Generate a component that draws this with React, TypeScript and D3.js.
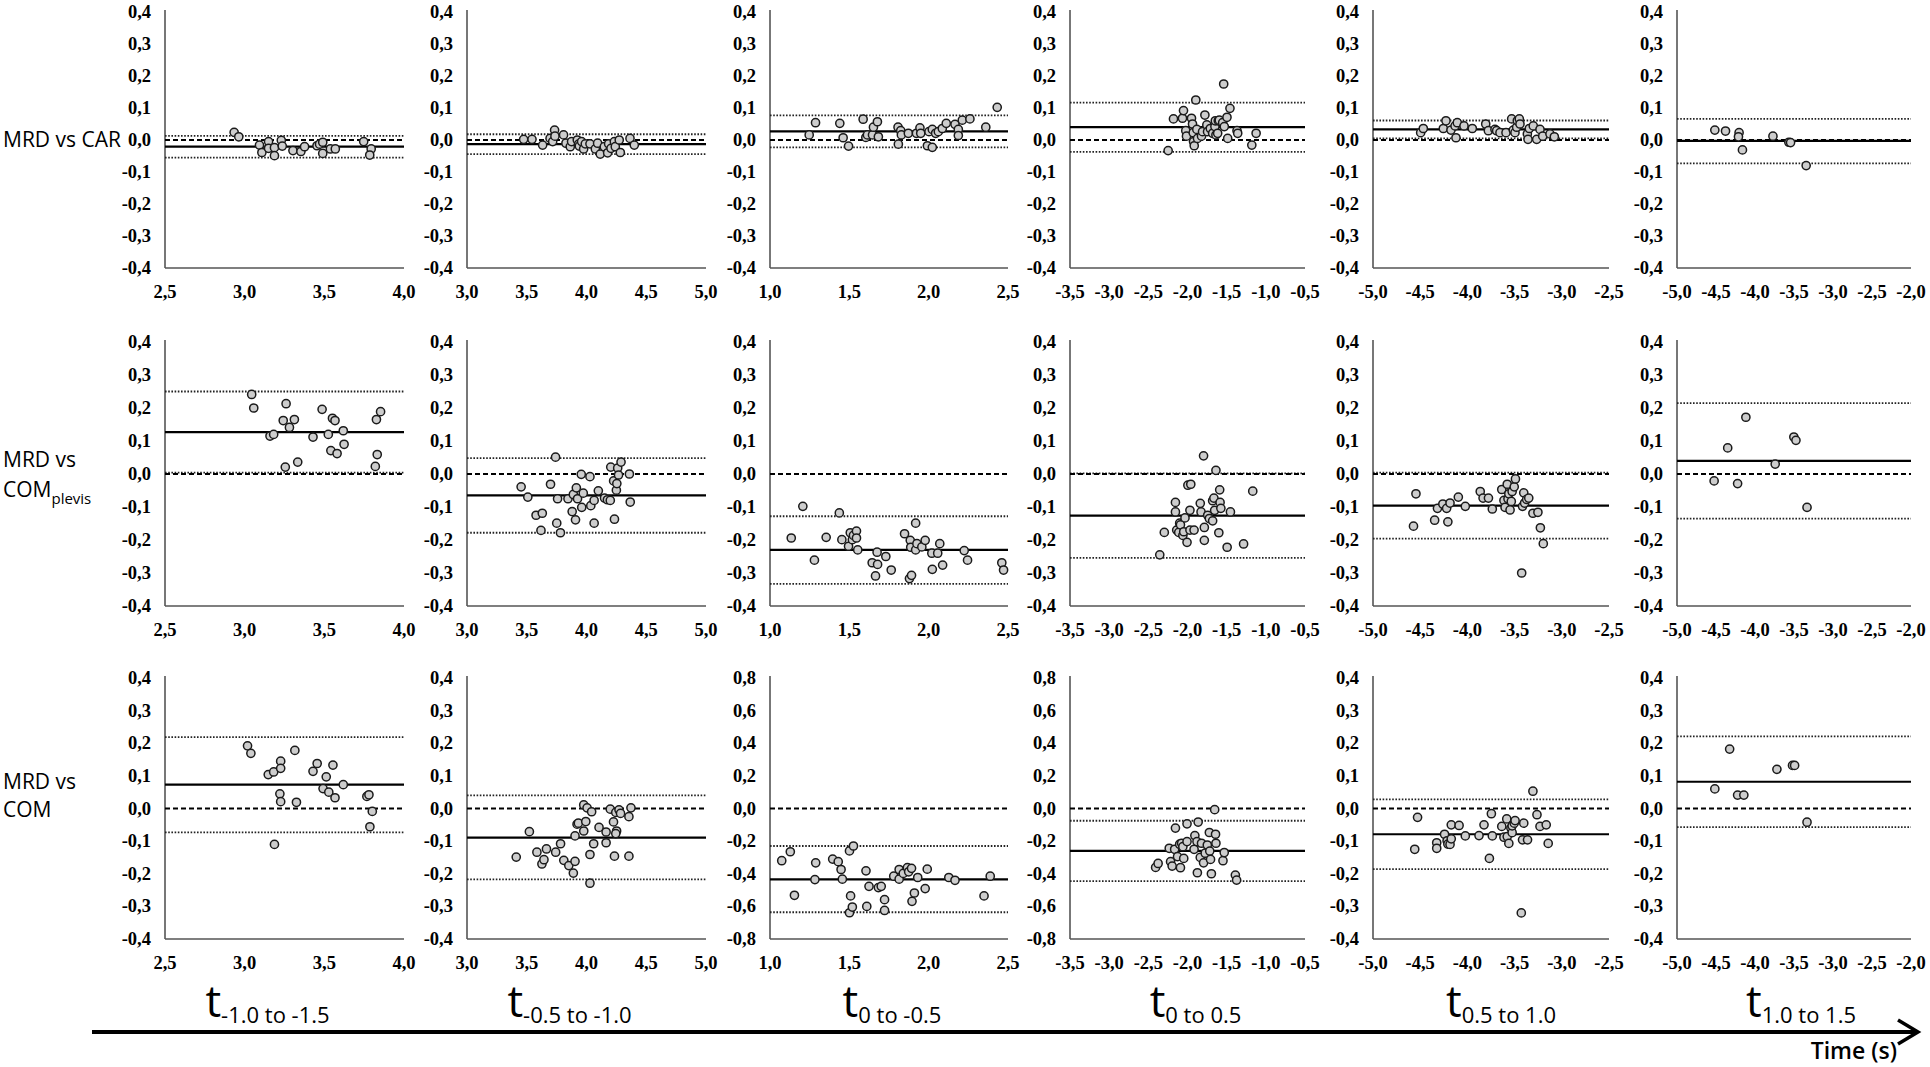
import React, { useEffect, useRef } from 'react';
import * as d3 from 'd3';

type Pt = [number, number];

// row / column labels
const rowLabels: string[][] = [['MRD vs CAR'], ['MRD vs', 'COM', 'plevis'], ['MRD vs', 'COM']];
const periodSubs = ['-1.0 to -1.5', '-0.5 to -1.0', '0 to -0.5', '0 to 0.5', '0.5 to 1.0', '1.0 to 1.5'];

// x range of each column (s)
const xDomains: [number, number][] = [
  [2.5, 4.0], [3.0, 5.0], [1.0, 2.5], [-3.5, -0.5], [-5.0, -2.5], [-5.0, -2.0]
];
// y range: wide range only for COM, columns 3 and 4
const yDomainNarrow: [number, number] = [-0.4, 0.4];
const yDomainWide: [number, number] = [-0.8, 0.8];

// bias and limits of agreement per row
const carMean = [-0.021, -0.013, 0.027, 0.040, 0.033, -0.003];
const carUpper = [0.013, 0.018, 0.077, 0.117, 0.061, 0.066];
const carLower = [-0.055, -0.044, -0.023, -0.037, 0.005, -0.073];
const pelvisMean = [0.127, -0.065, -0.230, -0.126, -0.096, 0.040];
const pelvisUpper = [0.250, 0.048, -0.128, 0.002, 0.004, 0.215];
const pelvisLower = [0.004, -0.178, -0.333, -0.254, -0.196, -0.135];
const comMean = [0.073, -0.089, -0.434, -0.260, -0.079, 0.082];
const comUpper = [0.219, 0.040, -0.230, -0.075, 0.028, 0.221];
const comLower = [-0.073, -0.217, -0.636, -0.445, -0.186, -0.057];

// MRD vs CAR
const car1: Pt[] = [[2.934, 0.024], [2.963, 0.010], [3.093, -0.016], [3.108, -0.039], [3.15, -0.005], [3.15, -0.026], [3.187, -0.024], [3.187, -0.049], [3.23, -0.001], [3.236, -0.019], [3.303, -0.033], [3.353, -0.036], [3.376, -0.021], [3.454, -0.018], [3.47, -0.013], [3.49, -0.007], [3.49, -0.042], [3.538, -0.028], [3.569, -0.028], [3.747, -0.005], [3.794, -0.028], [3.785, -0.047]];
const car2: Pt[] = [[3.474, 0.002], [3.544, 0.002], [3.633, -0.016], [3.695, 0.005], [3.717, -0.005], [3.733, 0.031], [3.736, 0.012], [3.808, 0.016], [3.828, -0.010], [3.864, -0.021], [3.875, -0.005], [3.923, 0.0], [3.934, -0.013], [3.94, -0.019], [3.959, -0.005], [3.976, -0.028], [3.99, -0.012], [4.029, -0.012], [4.074, -0.028], [4.093, -0.010], [4.115, -0.044], [4.149, -0.021], [4.177, -0.040], [4.185, -0.012], [4.205, -0.026], [4.233, -0.005], [4.241, -0.021], [4.274, 0.0], [4.283, -0.039], [4.364, 0.005], [4.4, -0.016]];
const car3: Pt[] = [[1.247, 0.016], [1.287, 0.054], [1.44, 0.052], [1.461, 0.007], [1.495, -0.019], [1.587, 0.065], [1.604, 0.008], [1.614, 0.016], [1.646, 0.016], [1.652, 0.040], [1.677, 0.057], [1.683, 0.010], [1.807, 0.040], [1.809, -0.013], [1.824, 0.029], [1.828, 0.016], [1.872, 0.021], [1.923, 0.021], [1.945, 0.038], [1.95, 0.021], [1.992, -0.018], [2.002, 0.026], [2.023, -0.023], [2.023, 0.033], [2.044, 0.021], [2.061, 0.026], [2.086, 0.036], [2.111, 0.052], [2.166, 0.049], [2.187, 0.033], [2.187, 0.014], [2.212, 0.062], [2.26, 0.066], [2.36, 0.040], [2.432, 0.102]];
const car4: Pt[] = [[-2.247, -0.033], [-2.179, 0.066], [-2.064, 0.068], [-2.051, 0.092], [-2.022, 0.029], [-2.013, 0.012], [-1.949, 0.068], [-1.936, 0.05], [-1.927, 0.023], [-1.923, -0.005], [-1.914, -0.018], [-1.894, 0.125], [-1.881, 0.033], [-1.872, 0.005], [-1.821, 0.012], [-1.808, 0.026], [-1.778, 0.078], [-1.753, 0.047], [-1.744, 0.026], [-1.709, 0.036], [-1.679, 0.021], [-1.65, 0.042], [-1.645, 0.060], [-1.637, 0.016], [-1.615, 0.021], [-1.607, 0.060], [-1.594, 0.062], [-1.551, 0.054], [-1.538, 0.175], [-1.53, 0.042], [-1.496, 0.071], [-1.487, 0.005], [-1.458, 0.099], [-1.368, 0.029], [-1.359, 0.021], [-1.179, -0.016], [-1.124, 0.021]];
const car5: Pt[] = [[-4.495, 0.023], [-4.467, 0.036], [-4.255, 0.036], [-4.227, 0.060], [-4.174, 0.031], [-4.131, 0.044], [-4.121, 0.007], [-4.107, 0.054], [-4.036, 0.044], [-3.948, 0.036], [-3.806, 0.05], [-3.778, 0.029], [-3.708, 0.033], [-3.69, 0.029], [-3.655, 0.023], [-3.591, 0.023], [-3.531, 0.066], [-3.514, 0.031], [-3.496, 0.023], [-3.478, 0.040], [-3.471, 0.060], [-3.45, 0.066], [-3.443, 0.05], [-3.365, 0.019], [-3.358, 0.002], [-3.344, 0.036], [-3.302, 0.044], [-3.266, 0.002], [-3.231, 0.033], [-3.202, 0.012], [-3.125, 0.019], [-3.079, 0.010]];
const car6: Pt[] = [[-4.515, 0.031], [-4.378, 0.028], [-4.204, 0.023], [-4.212, 0.010], [-4.161, -0.031], [-3.77, 0.012], [-3.566, -0.007], [-3.544, -0.008], [-3.344, -0.080]];

// MRD vs COM pelvis
const pel1: Pt[] = [[3.044, 0.241], [3.057, 0.200], [3.159, 0.115], [3.182, 0.120], [3.242, 0.162], [3.26, 0.213], [3.255, 0.021], [3.281, 0.141], [3.312, 0.165], [3.333, 0.036], [3.429, 0.112], [3.486, 0.196], [3.525, 0.120], [3.541, 0.071], [3.551, 0.169], [3.567, 0.162], [3.58, 0.062], [3.619, 0.131], [3.624, 0.090], [3.82, 0.023], [3.827, 0.165], [3.832, 0.059], [3.853, 0.189]];
const pel2: Pt[] = [[3.453, -0.039], [3.509, -0.070], [3.578, -0.125], [3.63, -0.119], [3.619, -0.171], [3.699, -0.031], [3.741, 0.051], [3.751, -0.149], [3.758, -0.075], [3.782, -0.178], [3.845, -0.075], [3.88, -0.114], [3.89, -0.062], [3.908, -0.139], [3.915, -0.042], [3.925, -0.075], [3.956, -0.001], [3.96, -0.101], [3.973, -0.058], [4.029, -0.008], [4.036, -0.096], [4.064, -0.080], [4.064, -0.149], [4.099, -0.051], [4.151, -0.073], [4.175, -0.078], [4.199, -0.080], [4.203, 0.021], [4.227, -0.021], [4.234, -0.137], [4.25, -0.049], [4.254, -0.029], [4.261, 0.018], [4.268, -0.003], [4.289, 0.036], [4.359, 0.0], [4.366, -0.085]];
const pel3: Pt[] = [[1.134, -0.194], [1.207, -0.098], [1.28, -0.261], [1.354, -0.192], [1.437, -0.118], [1.453, -0.199], [1.495, -0.219], [1.506, -0.178], [1.519, -0.199], [1.526, -0.186], [1.545, -0.173], [1.545, -0.194], [1.553, -0.230], [1.644, -0.269], [1.665, -0.309], [1.675, -0.237], [1.678, -0.274], [1.73, -0.250], [1.764, -0.291], [1.848, -0.181], [1.884, -0.201], [1.887, -0.222], [1.879, -0.317], [1.892, -0.307], [1.918, -0.149], [1.918, -0.230], [1.926, -0.211], [1.957, -0.221], [1.978, -0.201], [2.02, -0.240], [2.023, -0.289], [2.057, -0.240], [2.07, -0.211], [2.088, -0.276], [2.224, -0.232], [2.245, -0.261], [2.461, -0.269], [2.472, -0.291]];
const pel4: Pt[] = [[-2.354, -0.245], [-2.296, -0.177], [-2.154, -0.086], [-2.154, -0.115], [-2.138, -0.170], [-2.112, -0.177], [-2.1, -0.149], [-2.09, -0.154], [-2.059, -0.186], [-2.048, -0.175], [-2.032, -0.133], [-2.006, -0.207], [-1.995, -0.034], [-1.969, -0.110], [-1.969, -0.170], [-1.958, -0.031], [-1.916, -0.170], [-1.837, -0.089], [-1.827, -0.115], [-1.795, 0.055], [-1.785, -0.162], [-1.785, -0.201], [-1.742, -0.125], [-1.721, -0.135], [-1.679, -0.081], [-1.679, -0.142], [-1.663, -0.073], [-1.653, -0.110], [-1.637, 0.011], [-1.6, -0.178], [-1.589, -0.048], [-1.584, -0.086], [-1.574, -0.104], [-1.494, -0.222], [-1.452, -0.115], [-1.284, -0.212], [-1.167, -0.052]];
const pel5: Pt[] = [[-4.571, -0.158], [-4.545, -0.060], [-4.347, -0.140], [-4.317, -0.104], [-4.26, -0.091], [-4.22, -0.104], [-4.207, -0.145], [-4.184, -0.088], [-4.096, -0.070], [-4.022, -0.098], [-3.864, -0.053], [-3.834, -0.073], [-3.777, -0.073], [-3.736, -0.106], [-3.636, -0.047], [-3.613, -0.080], [-3.601, -0.101], [-3.578, -0.031], [-3.57, -0.075], [-3.561, -0.060], [-3.548, -0.109], [-3.535, -0.083], [-3.526, -0.053], [-3.504, -0.039], [-3.491, -0.015], [-3.425, -0.300], [-3.416, -0.098], [-3.403, -0.057], [-3.394, -0.088], [-3.372, -0.077], [-3.35, -0.073], [-3.306, -0.119], [-3.253, -0.116], [-3.227, -0.163], [-3.196, -0.211]];
const pel6: Pt[] = [[-4.524, -0.021], [-4.35, 0.079], [-4.223, -0.029], [-4.117, 0.172], [-3.741, 0.030], [-3.502, 0.112], [-3.475, 0.102], [-3.333, -0.101]];

// MRD vs COM
const com1: Pt[] = [[3.018, 0.192], [3.039, 0.169], [3.148, 0.104], [3.182, 0.112], [3.187, -0.110], [3.221, 0.045], [3.226, 0.145], [3.226, 0.123], [3.226, 0.021], [3.315, 0.178], [3.325, 0.019], [3.429, 0.114], [3.455, 0.138], [3.492, 0.061], [3.512, 0.097], [3.528, 0.050], [3.554, 0.133], [3.567, 0.033], [3.619, 0.073], [3.767, 0.037], [3.78, 0.042], [3.801, -0.009], [3.786, -0.056]];
const com2: Pt[] = [[3.412, -0.149], [3.522, -0.071], [3.585, -0.134], [3.627, -0.170], [3.644, -0.157], [3.665, -0.124], [3.742, -0.134], [3.783, -0.108], [3.81, -0.159], [3.852, -0.175], [3.89, -0.198], [3.904, -0.162], [3.904, -0.084], [3.921, -0.048], [3.932, -0.045], [3.977, 0.011], [3.977, -0.069], [3.994, -0.040], [4.005, 0.002], [4.029, -0.141], [4.029, -0.229], [4.043, -0.010], [4.06, -0.108], [4.105, -0.058], [4.164, -0.072], [4.164, -0.105], [4.199, -0.002], [4.226, -0.041], [4.234, -0.146], [4.245, -0.012], [4.252, -0.069], [4.245, -0.077], [4.272, -0.004], [4.285, -0.015], [4.355, -0.025], [4.355, -0.146], [4.372, 0.002]];
const com3: Pt[] = [[1.074, -0.320], [1.128, -0.265], [1.154, -0.532], [1.283, -0.436], [1.288, -0.333], [1.395, -0.310], [1.43, -0.326], [1.448, -0.374], [1.456, -0.433], [1.501, -0.260], [1.501, -0.639], [1.508, -0.536], [1.519, -0.604], [1.526, -0.230], [1.605, -0.382], [1.61, -0.600], [1.624, -0.477], [1.683, -0.485], [1.701, -0.477], [1.722, -0.559], [1.722, -0.625], [1.78, -0.415], [1.814, -0.374], [1.814, -0.433], [1.84, -0.398], [1.866, -0.363], [1.874, -0.388], [1.892, -0.367], [1.895, -0.569], [1.91, -0.518], [1.931, -0.423], [1.978, -0.491], [1.991, -0.372], [2.127, -0.423], [2.166, -0.440], [2.349, -0.536], [2.388, -0.415]];
const com4: Pt[] = [[-2.407, -0.361], [-2.375, -0.337], [-2.233, -0.244], [-2.216, -0.326], [-2.196, -0.353], [-2.164, -0.250], [-2.154, -0.120], [-2.127, -0.295], [-2.1, -0.219], [-2.09, -0.363], [-2.075, -0.213], [-2.059, -0.234], [-2.048, -0.306], [-2.006, -0.203], [-2.006, -0.094], [-1.916, -0.250], [-1.906, -0.166], [-1.879, -0.203], [-1.874, -0.394], [-1.864, -0.083], [-1.837, -0.300], [-1.821, -0.213], [-1.795, -0.333], [-1.774, -0.274], [-1.747, -0.224], [-1.716, -0.261], [-1.721, -0.147], [-1.706, -0.312], [-1.695, -0.400], [-1.653, -0.007], [-1.642, -0.158], [-1.637, -0.213], [-1.547, -0.320], [-1.531, -0.270], [-1.389, -0.408], [-1.373, -0.439]];
const com5: Pt[] = [[-4.558, -0.125], [-4.528, -0.027], [-4.325, -0.105], [-4.325, -0.122], [-4.242, -0.079], [-4.215, -0.099], [-4.207, -0.109], [-4.184, -0.110], [-4.171, -0.093], [-4.171, -0.050], [-4.088, -0.052], [-4.022, -0.084], [-3.877, -0.083], [-3.824, -0.050], [-3.767, -0.153], [-3.746, -0.016], [-3.736, -0.084], [-3.636, -0.055], [-3.613, -0.088], [-3.583, -0.032], [-3.578, -0.086], [-3.561, -0.107], [-3.539, -0.060], [-3.526, -0.074], [-3.526, -0.053], [-3.504, -0.045], [-3.495, -0.037], [-3.429, -0.320], [-3.416, -0.096], [-3.403, -0.045], [-3.363, -0.096], [-3.306, 0.053], [-3.263, -0.019], [-3.231, -0.055], [-3.165, -0.050], [-3.144, -0.107]];
const com6: Pt[] = [[-4.515, 0.060], [-4.325, 0.182], [-4.223, 0.041], [-4.143, 0.041], [-3.719, 0.120], [-3.519, 0.132], [-3.492, 0.132], [-3.333, -0.042]];

const rowPoints: Pt[][][] = [
  [car1, car2, car3, car4, car5, car6],
  [pel1, pel2, pel3, pel4, pel5, pel6],
  [com1, com2, com3, com4, com5, com6]
];
const rowMeans = [carMean, pelvisMean, comMean];
const rowUppers = [carUpper, pelvisUpper, comUpper];
const rowLowers = [carLower, pelvisLower, comLower];

const fmt = (v: number) => d3.format('.1f')(v).replace('\u2212', '-').replace('.', ',');

const App: React.FC = () => {
  const svgRef = useRef<SVGSVGElement>(null);

  useEffect(() => {
    if (!svgRef.current) return;
    const svg = d3.select(svgRef.current);
    svg.selectAll('*').remove();

    const colLeft = [165, 467, 770, 1070, 1373, 1677];
    const colRight = [404, 706, 1008, 1305, 1609, 1911];
    const rowTop = [12, 342, 678];
    const rowBottom = [268, 606, 939];
    // period titles sit slightly off the column centres
    const titleShift = [-17, -17, 3, 8, 10, 7];
    const tickFont = '"Liberation Serif", "Times New Roman", serif';
    const labelFont = '"Open Sans", "Noto Sans", sans-serif';

    for (let r = 0; r < 3; r++) {
      for (let c = 0; c < 6; c++) {
        const wide = r === 2 && (c === 2 || c === 3);
        const yDom = wide ? yDomainWide : yDomainNarrow;
        const x = d3.scaleLinear().domain(xDomains[c]).range([colLeft[c], colRight[c]]);
        const y = d3.scaleLinear().domain(yDom).range([rowBottom[r], rowTop[r]]);
        const g = svg.append('g');

        // x ticks
        const xt = d3.range(xDomains[c][0], xDomains[c][1] + 0.001, 0.5);
        g.selectAll('text.xt')
          .data(xt)
          .join('text')
          .attr('x', d => x(d))
          .attr('y', rowBottom[r] + 24)
          .attr('text-anchor', 'middle')
          .attr('dominant-baseline', 'central')
          .style('font-family', tickFont)
          .style('font-weight', 'bold')
          .style('font-size', '18.5px')
          .text(d => fmt(d));

        // y ticks
        const step = wide ? 0.2 : 0.1;
        const yt = d3.range(Math.round(yDom[0] / step), Math.round(yDom[1] / step) + 1).map(k => k * step);
        g.selectAll('text.yt')
          .data(yt)
          .join('text')
          .attr('x', colLeft[c] - 14)
          .attr('y', d => y(d))
          .attr('text-anchor', 'end')
          .attr('dominant-baseline', 'central')
          .style('font-family', tickFont)
          .style('font-weight', 'bold')
          .style('font-size', '18.5px')
          .text(d => fmt(Math.abs(d) < 1e-9 ? 0 : d));

        // axes
        g.append('line')
          .attr('x1', colLeft[c]).attr('x2', colLeft[c])
          .attr('y1', y(yDom[1]) - 2).attr('y2', y(yDom[0]))
          .attr('stroke', '#555').attr('stroke-width', 1.6);
        g.append('line')
          .attr('x1', colLeft[c]).attr('x2', colRight[c])
          .attr('y1', y(yDom[0])).attr('y2', y(yDom[0]))
          .attr('stroke', '#555').attr('stroke-width', 1.6);

        const hline = (v: number) => g.append('line')
          .attr('x1', colLeft[c]).attr('x2', colRight[c])
          .attr('y1', y(v)).attr('y2', y(v));

        // limits of agreement
        hline(rowUppers[r][c]).attr('stroke', '#222').attr('stroke-width', 1.8).attr('stroke-dasharray', '1.6,1.6');
        hline(rowLowers[r][c]).attr('stroke', '#222').attr('stroke-width', 1.8).attr('stroke-dasharray', '1.6,1.6');
        // zero line
        hline(0).attr('stroke', '#000').attr('stroke-width', 2.2).attr('stroke-dasharray', '5,3');
        // mean difference
        hline(rowMeans[r][c]).attr('stroke', '#000').attr('stroke-width', 2.2);

        g.selectAll('circle')
          .data(rowPoints[r][c])
          .join('circle')
          .attr('cx', d => x(d[0]))
          .attr('cy', d => y(d[1]))
          .attr('r', 4.1)
          .attr('fill', '#cdcdcd')
          .attr('stroke', '#1a1a1a')
          .attr('stroke-width', 1.5);
      }
    }

    // row labels
    const rowLabelY = [[147], [467, 497], [789, 817]];
    rowLabels.forEach((lab, r) => {
      svg.append('text')
        .attr('x', 3)
        .attr('y', rowLabelY[r][0])
        .style('font-family', labelFont)
        .style('font-size', '21px')
        .text(lab[0]);
      if (lab.length > 1) {
        const t2 = svg.append('text')
          .attr('x', 3)
          .attr('y', rowLabelY[r][1])
          .style('font-family', labelFont)
          .style('font-size', '21px');
        t2.append('tspan').text(lab[1]);
        if (lab[2]) {
          t2.append('tspan').attr('dy', 7).style('font-size', '15px').text(lab[2]);
        }
      }
    });

    // period titles
    periodSubs.forEach((s, c) => {
      const t = svg.append('text')
        .attr('x', (colLeft[c] + colRight[c]) / 2 + titleShift[c])
        .attr('y', 1017)
        .attr('text-anchor', 'middle')
        .style('font-family', labelFont);
      t.append('tspan').style('font-size', '44px').text('t');
      t.append('tspan').attr('dy', 6).style('font-size', '22px').text(s);
    });

    // time arrow
    svg.append('line')
      .attr('x1', 92).attr('x2', 1916)
      .attr('y1', 1032).attr('y2', 1032)
      .attr('stroke', '#000').attr('stroke-width', 4);
    svg.append('path')
      .attr('d', 'M1898,1020 L1918,1032 L1898,1044')
      .attr('fill', 'none')
      .attr('stroke', '#000')
      .attr('stroke-width', 3.5);
    svg.append('text')
      .attr('x', 1897).attr('y', 1059)
      .attr('text-anchor', 'end')
      .style('font-family', labelFont)
      .style('font-size', '23px')
      .style('font-weight', 600)
      .text('Time (s)');
  }, []);

  return (
    <div style={{ position: 'absolute', left: 0, top: 0 }}>
      <svg ref={svgRef} width={1930} height={1067} style={{ display: 'block', background: '#fff' }} />
    </div>
  );
};

export default App;
